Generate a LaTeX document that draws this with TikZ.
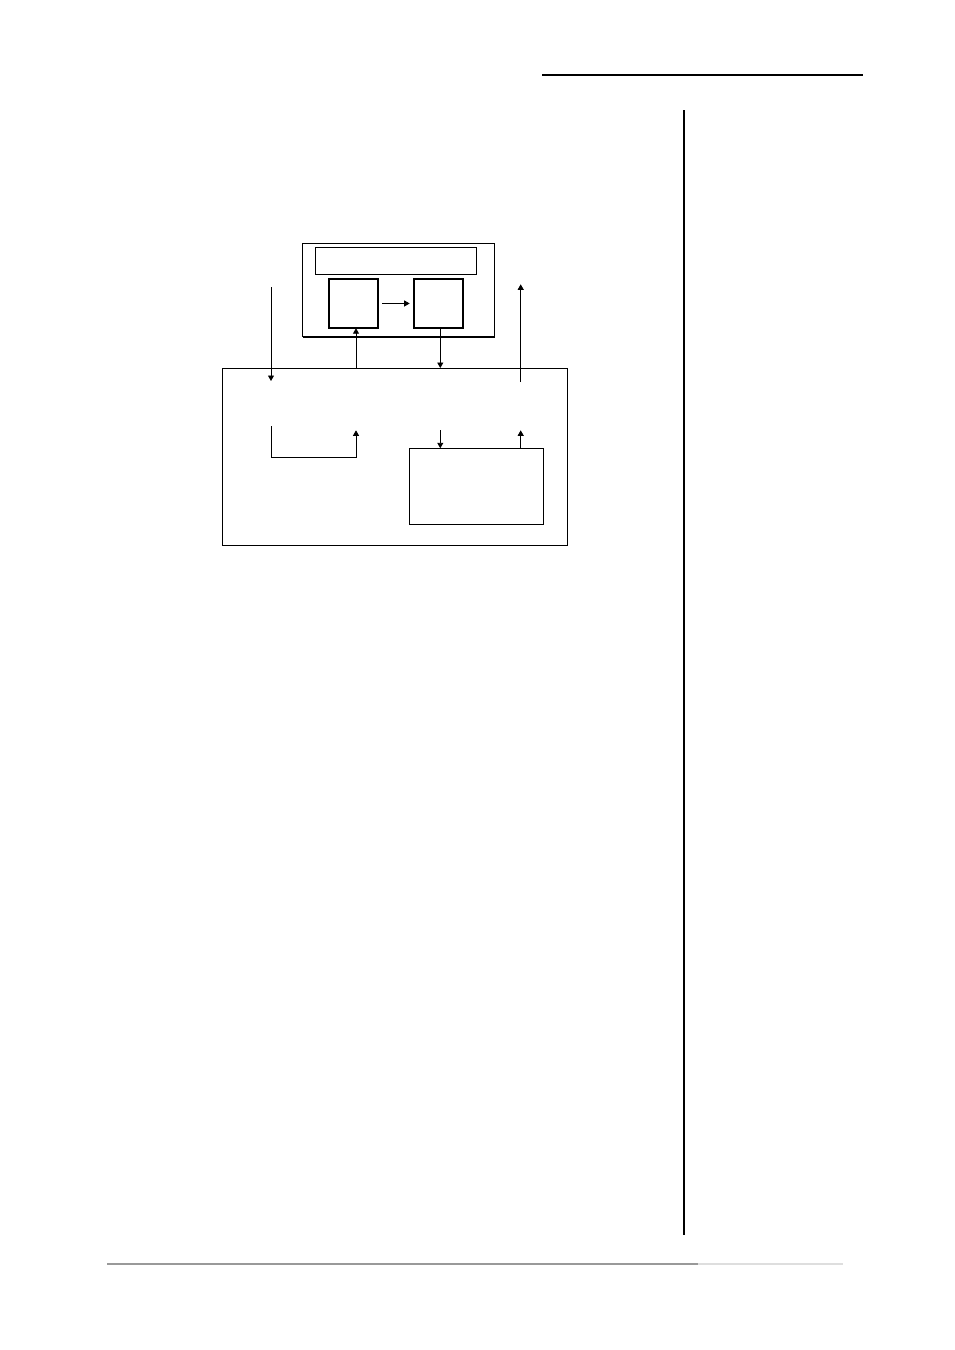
\documentclass[tikz,border=0pt]{standalone}
\usetikzlibrary{arrows.meta}
\begin{document}
\begin{tikzpicture}[x=1pt,y=-1pt,
  thinbox/.style={draw=black,line width=1pt,inner sep=0pt,outer sep=0pt,anchor=north west},
  thickbox/.style={draw=black,line width=1.8pt,inner sep=0pt,outer sep=0pt,anchor=north west},
  barbox/.style={draw=black,line width=1.4pt,inner sep=0pt,outer sep=0pt,anchor=north west},
  conn/.style={draw=black,line width=0.9pt,-{Triangle[length=5.5pt,width=6pt]}},
  plain/.style={draw=black,line width=0.9pt}]
\useasboundingbox (0,0) rectangle (954,1350);
% page rules
\draw[line width=1.3pt] (542,75) -- (863,75);
\draw[line width=1.8pt] (684,110) -- (684,1235);
\draw[line width=1.5pt,black!40] (107,1264) -- (698,1264);
\draw[line width=1.5pt,black!13] (698,1264) -- (843,1264);
% upper unit
\node[thinbox,minimum width=192pt,minimum height=93.5pt] (top) at (302.5,243.3) {};
\draw[line width=2pt] (top.south west) -- (top.south east);
\node[barbox,minimum width=161pt,minimum height=26.5pt] (bar) at (315.7,247.7) {};
\node[thickbox,minimum width=49pt,minimum height=49.5pt] (ba) at (329.3,278.7) {};
\node[thickbox,minimum width=49.5pt,minimum height=49.5pt] (bb) at (413.7,278.7) {};
% lower unit
\node[thinbox,minimum width=344.6pt,minimum height=177.7pt] (big) at (222.7,368) {};
\node[thinbox,minimum width=134pt,minimum height=76pt] (sub) at (409.3,448.3) {};
% free-end coordinates
\coordinate (inA) at (271,287.3);
\coordinate (inAend) at (271,381);
\coordinate (outD) at (520.7,284.3);
\coordinate (outDstart) at (520.7,382);
\coordinate (elS) at (271,426);
\coordinate (elE) at (356,430.3);
\coordinate (subIn) at (440.3,430);
\coordinate (subOut) at (520.7,430.3);
% connectors
\draw[conn] ([xshift=4pt]ba.east) -- ([xshift=-4pt]bb.west);
\draw[conn] (inA) -- (inAend);
\draw[conn] (outDstart) -- (outD);
\draw[conn] (big.north -| 356,0) -- (ba.south -| 356,0);
\draw[conn] (bb.south -| subIn) -- (big.north -| subIn);
\draw[conn] (elS) -- (271,457.7) -- (356,457.7) -- (elE);
\draw[conn] (subIn) -- (sub.north -| subIn);
\draw[conn] (sub.north -| subOut) -- (subOut);
\end{tikzpicture}
\end{document}
